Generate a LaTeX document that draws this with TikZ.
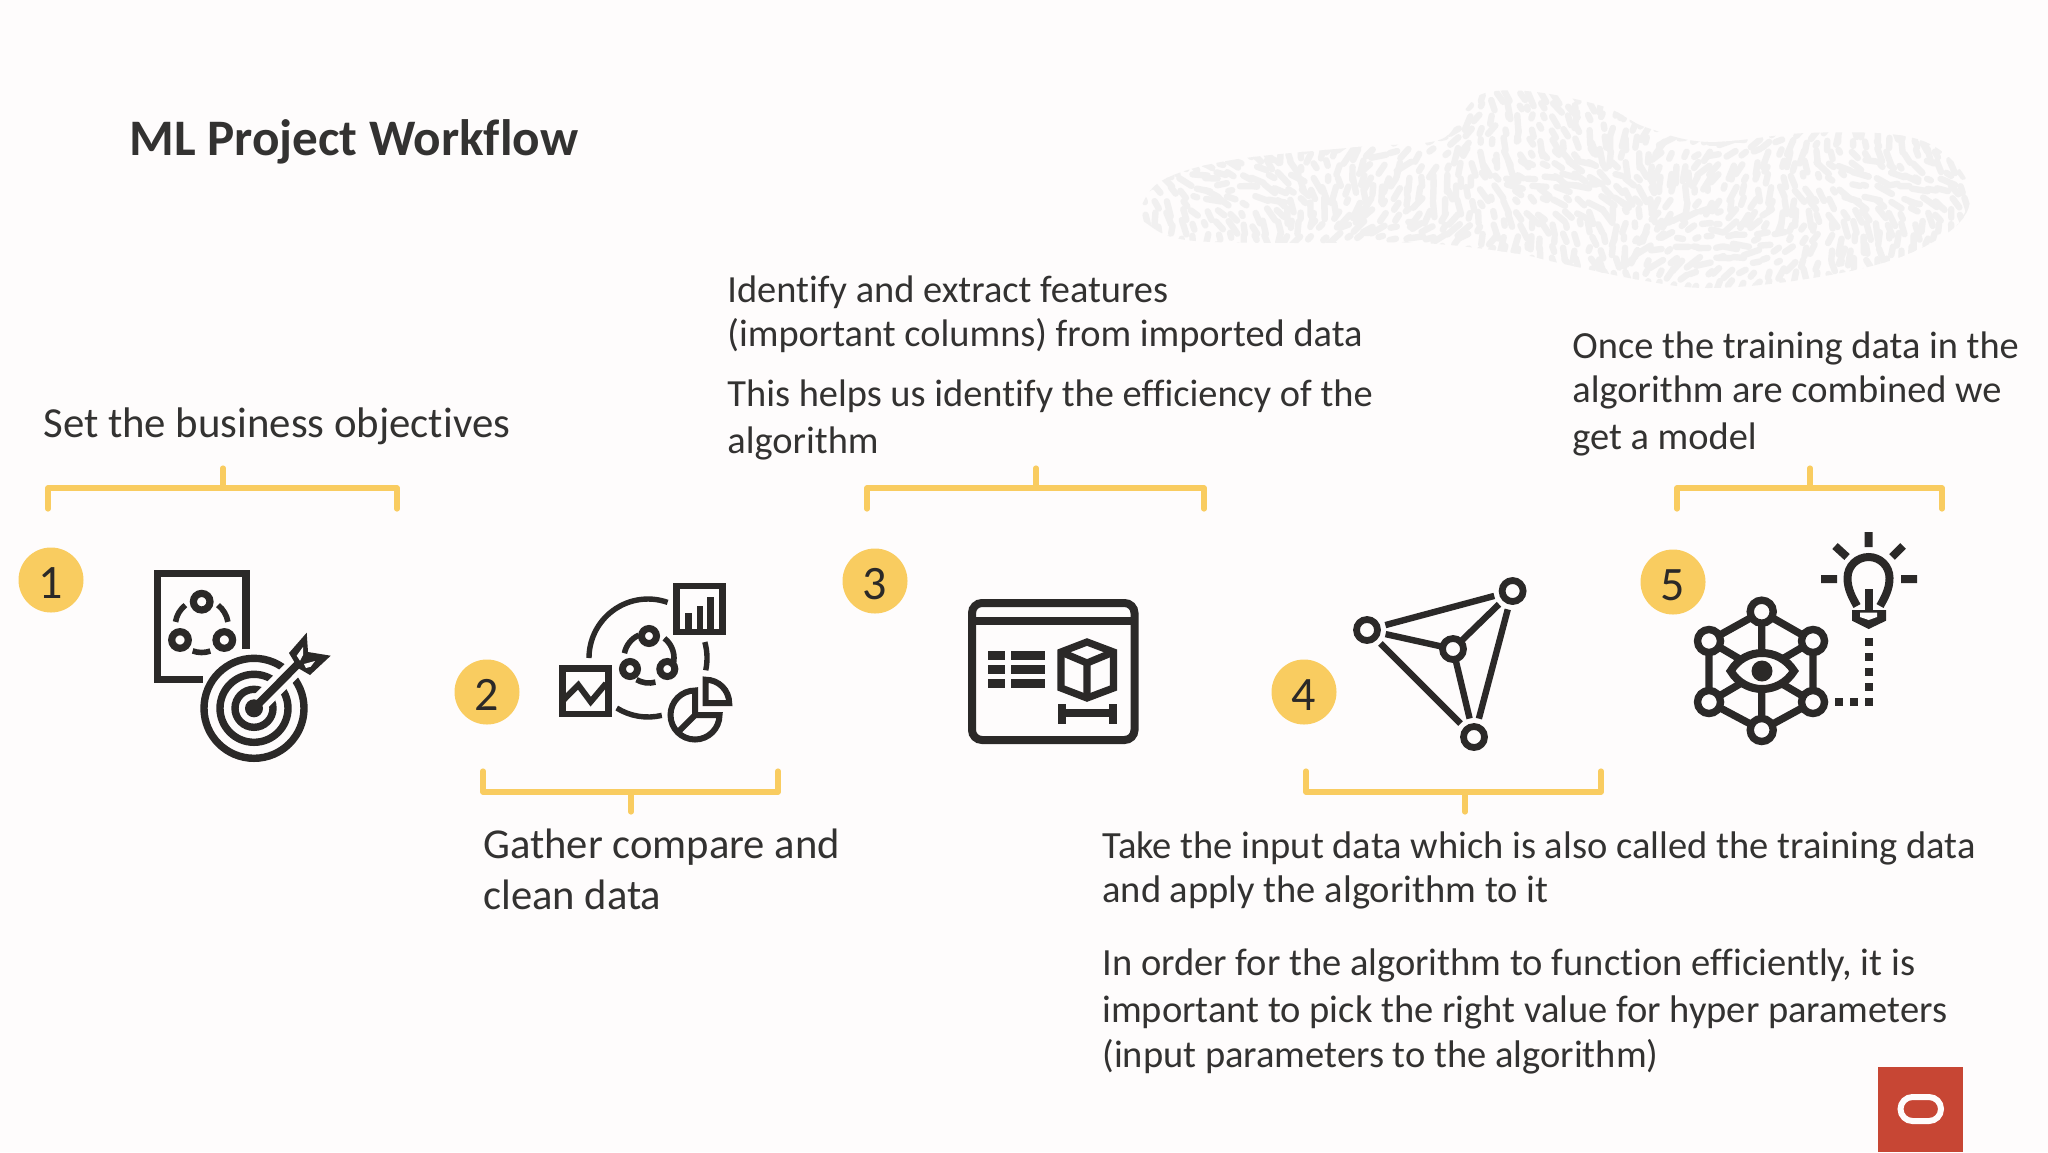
\documentclass[tikz,border=0pt]{standalone}
\usepackage{fontspec}
\setmainfont{Carlito}[Ligatures=CommonOff]
\definecolor{pagebg}{HTML}{FEFCFC}
\definecolor{ink}{HTML}{2B2928}
\definecolor{txt}{HTML}{333231}
\definecolor{gold}{HTML}{F9CC60}
\definecolor{blobc}{HTML}{F1F0F0}
\definecolor{orared}{HTML}{C74634}
\newcommand{\uarc}[6][]{\draw[#1] (#2,#3) ++(-#5:#4) arc[start angle=-#5,end angle=-#6,radius=#4];}
\tikzset{
  lab/.style={anchor=base west,inner sep=0pt,text=txt,font=\fontsize{#1}{#1}\selectfont},
  num/.style={circle,fill=gold,minimum size=32.5pt,inner sep=0pt,text=ink,text height=18.5pt,text depth=0pt,font=\fontsize{24}{24}\selectfont},
  brace/.style={draw=gold,line width=2.6pt,line cap=round,line join=round},
  icon/.style={draw=ink,line width=3.6pt},
  thin icon/.style={draw=ink,line width=3.2pt},
  arc icon/.style={draw=ink,line width=2.8pt},
  edgefour/.style={draw=ink,line width=3.2pt}
}
\begin{document}
\begin{tikzpicture}[x=0.5pt,y=-0.5pt]
\useasboundingbox (0,0) rectangle (2048,1152);
\fill[pagebg] (0,0) rectangle (2048,1152);
% textured blob
\begin{scope}
\clip plot[smooth cycle,tension=0.6] coordinates {(1140,210)(1163,180)(1232,160)(1358,147)(1439,140)(1462,113)(1485,93)(1536,92)(1605,107)(1645,127)(1708,142)(1806,133)(1898,135)(1944,153)(1970,190)(1955,227)(1892,260)(1800,280)(1708,288)(1640,280)(1559,263)(1513,253)(1421,243)(1295,243)(1186,240)(1146,223)};
\pgfmathsetseed{7}
\foreach \gx in {1130,1142,...,1980}{
  \foreach \gy in {88,100,...,295}{
    \pgfmathsetmacro{\jx}{\gx+rnd*7}
    \pgfmathsetmacro{\jy}{\gy+rnd*7}
    \pgfmathsetmacro{\ang}{70+50*sin(\gx*1.1)+35*cos(\gy*3)+rnd*50}
    \pgfmathsetmacro{\len}{3+rnd*14}
    \draw[blobc,line width=3.2pt,line cap=round] (\jx,\jy) -- ++(\ang:\len);
  }
}
\end{scope}
% title
\node[lab=25.6,font=\fontsize{25.6}{25.6}\selectfont\bfseries] (title) at (129,155) {ML Project Workflow};
% labels
\node[lab=21.4] (t1) at (43,437) {Set the business objectives};
\node[lab=19.2] (t3a) at (727,302.5) {Identify and extract features};
\node[lab=19.2] (t3b) at (727,346.5) {(important columns) from imported data};
\node[lab=19.2] (t3c) at (727,406.5) {This helps us identify the efficiency of the};
\node[lab=19.2] (t3d) at (727,453.5) {algorithm};
\node[lab=19.2] (t5a) at (1572,358.5) {Once the training data in the};
\node[lab=19.2] (t5b) at (1572,402.5) {algorithm are combined we};
\node[lab=19.2] (t5c) at (1572,449.5) {get a model};
\node[lab=21.3] (t2a) at (483,858) {Gather compare and};
\node[lab=21.3] (t2b) at (483,909) {clean data};
\node[lab=19.25] (t4a) at (1102,858) {Take the input data which is also called the training data};
\node[lab=19.25] (t4b) at (1102,902.5) {and apply the algorithm to it};
\node[lab=19.25] (t4c) at (1102,975) {In order for the algorithm to function efficiently, it is};
\node[lab=19.25] (t4d) at (1102,1022) {important to pick the right value for hyper parameters};
\node[lab=19.25] (t4e) at (1102,1067) {(input parameters to the algorithm)};
% brackets
\draw[brace] (48,509) -- (48,488) -- (397,488) -- (397,509) (223,488) -- (223,468);
\draw[brace] (483,771) -- (483,792) -- (778,792) -- (778,771) (631,792) -- (631,812);
\draw[brace] (867,509) -- (867,488) -- (1204,488) -- (1204,509) (1036,488) -- (1036,468);
\draw[brace] (1306,771) -- (1306,792) -- (1601,792) -- (1601,771) (1465,792) -- (1465,812);
\draw[brace] (1677,509) -- (1677,488) -- (1942,488) -- (1942,509) (1810,488) -- (1810,468);
% numbers
\node[num] (n1) at (51,580) {1};
\node[num] (n2) at (487,692) {2};
\node[num] (n3) at (875,581) {3};
\node[num] (n4) at (1304,692) {4};
\node[num] (n5) at (1673,582) {5};
% icon 1
\draw[icon,miter limit=10] (246,649) -- (246,573.7) -- (157.7,573.7) -- (157.7,679.7) -- (203,679.7);
\foreach \cx/\cy in {201.7/601.7,180/640,224.3/640}{\draw[icon] (\cx,\cy) circle (8.3);}
\uarc[arc icon]{201.7}{626}{26.5}{128}{171}
\uarc[arc icon]{201.7}{626}{26.5}{9}{52}
\uarc[arc icon]{201.7}{626}{26.5}{250}{289}
\foreach \r in {50,34,19}{\draw[draw=ink,line width=3.7pt] (254,708.3) circle (\r);}
\draw[pagebg,line width=9.4pt] (254,708.3) -- (306,656);
\fill[ink] (254,708.3) circle (9);
\draw[draw=ink,line width=4pt] (254,708.3) -- (300,662);
\fill[ink] (306.7,632.7) -- (308,652) -- (330.7,655.7) -- (310,675) -- (298,668) -- (289,653) -- cycle;
\fill[pagebg] (296.7,655.7) -- (303,647) -- (303,655) -- (300,660.7) -- cycle;
\fill[pagebg] (304,664) -- (315,661) -- (310.7,666.7) -- (306,668) -- cycle;
% icon 2
\draw[draw=ink,line width=3.3pt] (676.7,586) rectangle (722.7,632);
\fill[ink] (685,613.3) rectangle (691.7,632);
\fill[ink] (696.7,605.7) rectangle (703.3,632);
\fill[ink] (707.3,597.3) rectangle (714.3,632);
\draw[draw=ink,line width=3.3pt] (562.3,668.3) rectangle (608.3,714);
\draw[draw=ink,line width=3pt] (564,699.5) -- (578.3,685) -- (590.7,701.7) -- (606,683.5);
\uarc[draw=ink,line width=2.7pt]{648}{658}{59}{70.6}{180}
\uarc[draw=ink,line width=2.7pt]{648}{658}{59}{-12}{15.7}
\uarc[draw=ink,line width=2.7pt]{648}{658}{59}{238}{283.5}
\foreach \cx/\cy in {649/636,630/669,667.3/669}{\draw[draw=ink,line width=3.5pt] (\cx,\cy) circle (7.5);}
\uarc[arc icon]{649}{658}{25}{114}{169}
\uarc[arc icon]{649}{658}{25}{-17}{52}
\uarc[arc icon]{649}{658}{25}{240}{285}
\draw[draw=ink,line width=3pt,line join=miter] (695,690.5) arc[start angle=-90,end angle=-360,radius=24.5] -- (695,715) -- cycle;
\draw[draw=ink,line width=3pt] (695,715) -- (677,733);
\draw[draw=ink,line width=3pt,line join=miter] (705.7,679.7) arc[start angle=-90,end angle=0,radius=23.5] -- (705.7,703.2) -- cycle;
% icon 3
\draw[draw=ink,line width=4pt,rounded corners=5pt] (972,603) rectangle (1134.5,740);
\draw[draw=ink,line width=4pt] (972,621) -- (1134.5,621);
\foreach \yy in {651,665,679}{
  \fill[ink] (987.5,\yy) rectangle (1005,\yy+8.5);
  \fill[ink] (1011,\yy) rectangle (1045,\yy+8.5);
}
\draw[icon,line join=miter] (1087,642) -- (1113.5,652) -- (1113.5,688) -- (1087,698) -- (1061,688) -- (1061,652) -- cycle;
\draw[icon,line join=miter] (1061,652) -- (1087,663) -- (1113.5,652) (1087,663) -- (1087,698);
\draw[draw=ink,line width=4pt] (1062,713) -- (1113,713) (1062,704) -- (1062,724) (1113,704) -- (1113,724);
% icon 4
\coordinate (a) at (1367,630);
\coordinate (b) at (1512.6,591);
\coordinate (c) at (1453,649);
\coordinate (d) at (1474,737);
\foreach \cx/\cy in {1367/630,1512.6/591,1453/649,1474/737}{\draw[draw=ink,line width=3.4pt] (\cx,\cy) circle (10.5);}
\draw[edgefour,shorten <=9.5pt,shorten >=9.5pt] (a) -- (b);
\draw[edgefour,shorten <=9.5pt,shorten >=6pt] (a) -- (c);
\draw[edgefour,shorten <=9.5pt,shorten >=9.5pt] (a) -- (d);
\draw[edgefour,shorten <=9.5pt,shorten >=6pt] (b) -- (c);
\draw[edgefour,shorten <=9.5pt,shorten >=9.5pt] (b) -- (d);
\draw[edgefour,shorten <=6pt,shorten >=9.5pt] (c) -- (d);
% icon 5
\coordinate (h1) at (1761.7,611.7);
\coordinate (h2) at (1813,641);
\coordinate (h3) at (1813,702);
\coordinate (h4) at (1761.7,730);
\coordinate (h5) at (1709,702);
\coordinate (h6) at (1709,641);
\draw[draw=ink,line width=3.7pt] (h1) -- (h2) -- (h3) -- (h4) -- (h5) -- (h6) -- cycle (h1) -- (h4) (h2) -- (h5) (h3) -- (h6);
\draw[draw=ink,line width=4pt,fill=pagebg] (1730.7,671) .. controls (1745,647) and (1779,647) .. (1794,671) .. controls (1779,695) and (1745,695) .. (1730.7,671) -- cycle;
\fill[ink] (1762,671) circle (10.5);
\foreach \c in {h1,h2,h3,h4,h5,h6}{\draw[draw=ink,line width=3.7pt,fill=pagebg] (\c) circle (11.5);}
\draw[draw=ink,line width=4pt] (1857,606) .. controls (1852,597) and (1847.5,589) .. (1847.5,578) .. controls (1847.5,566) and (1857,557) .. (1868.7,557) .. controls (1880,557) and (1889.5,566) .. (1889.5,578) .. controls (1889.5,589) and (1885,597) .. (1880,606);
\fill[ink] (1852,610) -- (1886,610) -- (1886,620.7) -- (1868.7,629) -- (1852,620.7) -- cycle;
\fill[pagebg] (1860,612.5) -- (1877,612.5) -- (1877,617) -- (1868.7,620) -- (1860,617) -- cycle;
\fill[ink] (1864.7,589) rectangle (1872.7,610);
\draw[draw=ink,line width=4pt] (1868.7,532) -- (1868.7,547) (1821,579) -- (1837,579) (1901,579) -- (1917,579) (1835,546) -- (1847,557) (1903,546) -- (1892,557);
\foreach \yy in {642,657,672,687,702}{\fill[ink] (1864.7,\yy-4) rectangle (1872.7,\yy+4);}
\foreach \xx in {1839,1854}{\fill[ink] (\xx-4,698) rectangle (\xx+4,706);}
% oracle mark
\fill[orared] (1878,1067) rectangle (1963,1152);
\draw[draw=pagebg,line width=3pt,rounded corners=6pt] (1900.5,1097) rectangle (1941,1121);
\end{tikzpicture}
\end{document}
